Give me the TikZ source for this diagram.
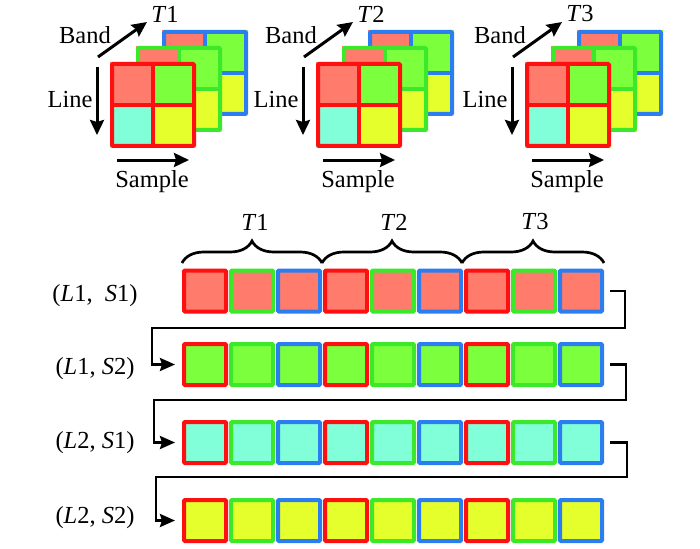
\documentclass[tikz,border=0pt]{standalone}
\usepackage{fontspec}
\setmainfont{Liberation Serif}
\usetikzlibrary{arrows.meta,decorations.pathreplacing,calc}
\definecolor{cSal}{HTML}{FF7B6B}
\definecolor{cGrn}{HTML}{7CFF3C}
\definecolor{cCyn}{HTML}{80FFD8}
\definecolor{cYel}{HTML}{E5FF2C}
\definecolor{bRed}{HTML}{FF1010}
\definecolor{bGrn}{HTML}{3BE82A}
\definecolor{bBlu}{HTML}{2C7DF0}
\begin{document}
\begin{tikzpicture}[x=1pt,y=-1pt, font=\fontsize{24.5}{28}\selectfont,
 cell/.style={draw, line width=4pt, minimum width=42pt, minimum height=41pt, inner sep=0pt, rounded corners=1pt},
 lbl/.style={inner sep=0pt, anchor=center},
 bigarrow/.style={line width=3pt, -{Stealth[length=15pt,width=14pt,inset=2pt]}},
 conn/.style={line width=2.7pt, -{Stealth[length=15pt,width=13pt,inset=2pt]}, shorten >=7pt},
 brc/.style={decorate, decoration={brace, amplitude=22pt}, line width=2.7pt}]
\useasboundingbox (0,0) rectangle (700,548);

% stacked band cubes
\foreach \X [count=\k] in {110,316,525} {
  \foreach \dx/\dy/\bc in {52/-32/bBlu, 26/-16/bGrn, 0/0/bRed} {
    \begin{scope}[shift={(\X+\dx,62+\dy)}]
      \fill[cSal] (0,0) rectangle (43,43);
      \fill[cGrn] (43,0) rectangle (86,43);
      \fill[cCyn] (0,43) rectangle (43,86);
      \fill[cYel] (43,43) rectangle (86,86);
      \draw[\bc, line width=4pt, rounded corners=1pt] (2,2) rectangle (84,84);
      \draw[\bc, line width=4pt] (43,2) -- (43,84) (2,43) -- (84,43);
    \end{scope}
  }
  \node[lbl] (band\k) at (\X-25,35) {Band};
  \node[lbl] (t\k) at (\X+55,14) {\textit{T}\k};
  \node[lbl] (line\k) at (\X-40,100) {Line};
  \node[lbl] (sample\k) at (\X+42,182) {Sample};
  \coordinate (ba\k) at (\X-12,57);
  \coordinate (bb\k) at (\X+37,22);
  \coordinate (la\k) at (\X-13,67);
  \coordinate (lb\k) at (\X-13,135);
  \coordinate (sa\k) at (\X+7,160);
  \coordinate (sb\k) at (\X+79,160);
  \draw[bigarrow] (ba\k) -- (bb\k);
  \draw[bigarrow] (la\k) -- (lb\k);
  \draw[bigarrow] (sa\k) -- (sb\k);
}

% rows of pixels
\foreach \r/\yy/\fc in {1/291/cSal, 2/364.5/cGrn, 3/442.5/cCyn, 4/520.5/cYel} {
  \foreach \c/\bc in {1/bRed,2/bGrn,3/bBlu,4/bRed,5/bGrn,6/bBlu,7/bRed,8/bGrn,9/bBlu} {
    \node[cell, draw=\bc, fill=\fc] (r\r-\c) at ({205+(\c-1)*47}, \yy) {};
  }
}

\node[lbl] (lab1) at (95,296) {(\textit{L}1,\ \ \textit{S}1)};
\node[lbl] (lab2) at (95,369) {(\textit{L}1, \textit{S}2)};
\node[lbl] (lab3) at (95,443) {(\textit{L}2, \textit{S}1)};
\node[lbl] (lab4) at (95,518) {(\textit{L}2, \textit{S}2)};

% braces
\coordinate (b0) at (182,263);
\coordinate (b1) at (322,263);
\coordinate (b2) at (462,263);
\coordinate (b3) at (604,263);
\draw[brc] (b0) -- (b1);
\draw[brc] (b1) -- (b2);
\draw[brc] (b2) -- (b3);
\node[lbl] (tt1) at (255,222) {\textit{T}1};
\node[lbl] (tt2) at (394,222) {\textit{T}2};
\node[lbl] (tt3) at (535,222) {\textit{T}3};

% connectors
\coordinate (c12) at (152,328);
\coordinate (c23) at (154,400);
\coordinate (c34) at (156,477);
\draw[conn] ([xshift=6pt]r1-9.east) -- ++(15,0) |- (c12) |- (r2-1.west);
\draw[conn] ([xshift=6pt]r2-9.east) -- ++(16,0) |- (c23) |- (r3-1.west);
\draw[conn] ([xshift=6pt]r3-9.east) -- ++(17,0) |- (c34) |- (r4-1.west);
\end{tikzpicture}
\end{document}
